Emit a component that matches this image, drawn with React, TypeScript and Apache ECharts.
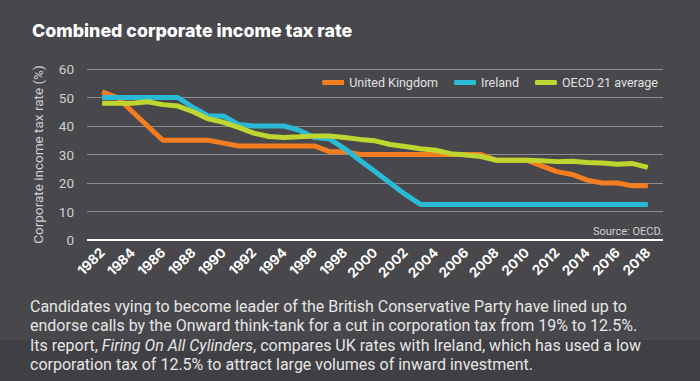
import React, { useEffect, useRef } from "react";
import * as echarts from "echarts";

const years = [1982, 1983, 1984, 1985, 1986, 1987, 1988, 1989, 1990, 1991, 1992, 1993, 1994, 1995, 1996, 1997, 1998, 1999, 2000, 2001, 2002, 2003, 2004, 2005, 2006, 2007, 2008, 2009, 2010, 2011, 2012, 2013, 2014, 2015, 2016, 2017, 2018];
const ukRates = [52, 50, 45, 40, 35, 35, 35, 35, 34, 33, 33, 33, 33, 33, 33, 31, 31, 30, 30, 30, 30, 30, 30, 30, 30, 30, 28, 28, 28, 26, 24, 23, 21, 20, 20, 19, 19];
const irelandRates = [50, 50, 50, 50, 50, 50, 46.5, 43.5, 43.5, 40.5, 40, 40, 40, 38.5, 36, 35.5, 32, 28, 24, 20, 16, 12.5, 12.5, 12.5, 12.5, 12.5, 12.5, 12.5, 12.5, 12.5, 12.5, 12.5, 12.5, 12.5, 12.5, 12.5, 12.5];
const oecdRates = [48, 48, 48, 48.5, 47.5, 47, 45, 42.5, 41.3, 39.5, 37.5, 36.3, 36, 36.2, 36.5, 36.5, 36, 35.3, 34.8, 33.5, 32.8, 32, 31.5, 30.3, 29.8, 29.3, 28, 28, 28, 27.8, 27.5, 27.6, 27.2, 27, 26.6, 26.8, 25.5];
const seriesNames = ["United Kingdom", "Ireland", "OECD 21 average"];
const seriesColors = ["#f47d20", "#2bbad6", "#bed62f"];

const titleText = "Combined corporate income tax rate";
const yAxisTitle = "Corporate income tax rate (%)";
const sourceText = "Source: OECD.";
const bodyLines = [
  "Candidates vying to become leader of the British Conservative Party have lined up to",
  "endorse calls by the Onward think-tank for a cut in corporation tax from 19% to 12.5%.",
  "Its report, {i|Firing On All Cylinders}, compares UK rates with Ireland, which has used a low",
  "corporation tax of 12.5% to attract large volumes of inward investment.",
];

const FONT = "Roboto, Lato, 'Noto Sans', sans-serif";

export default function App() {
  const ref = useRef<HTMLDivElement>(null);
  useEffect(() => {
    document.body.style.margin = "0";
    if (!ref.current) return;
    const chart = echarts.init(ref.current, undefined, { renderer: "svg" });
    const allSeries = [ukRates, irelandRates, oecdRates];
    chart.setOption({
      animation: false,
      backgroundColor: "#48474b",
      textStyle: { fontFamily: FONT },
      grid: { left: 87, right: 37, top: 69, bottom: 141 },
      legend: {
        right: 37,
        top: 71,
        icon: "roundRect",
        itemWidth: 22,
        itemHeight: 5,
        itemGap: 16,
        textStyle: { color: "#e2e2e2", fontSize: 12.5, fontFamily: FONT },
        data: seriesNames,
      },
      xAxis: {
        type: "value",
        min: 1981,
        max: 2019,
        interval: 1,
        splitLine: { show: false },
        axisTick: { show: false },
        axisLine: { show: false },
        axisLabel: {
          rotate: 45,
          margin: 10,
          color: "#ffffff",
          fontWeight: "bold",
          fontSize: 13.5,
          fontFamily: "Inter, Roboto, sans-serif",
          formatter: (v: number) => (v % 2 === 0 && v >= 1982 && v <= 2018 ? String(v) : ""),
        },
      },
      yAxis: {
        type: "value",
        min: 0,
        max: 60,
        interval: 10,
        name: yAxisTitle,
        nameLocation: "middle",
        nameGap: 42,
        nameTextStyle: { color: "#d0d0d0", fontSize: 13.5, fontFamily: FONT },
        axisLine: { show: false },
        axisTick: { show: false },
        axisLabel: { color: "#d0d0d0", fontSize: 13.5, margin: 13, fontFamily: FONT },
        splitLine: { lineStyle: { color: "#8c8c8e", width: 1 } },
      },
      series: [
        ...allSeries.map((vals, i) => ({
          name: seriesNames[i],
          type: "line",
          showSymbol: false,
          symbol: "none",
          color: seriesColors[i],
          lineStyle: { width: 5, color: seriesColors[i] },
          data: years.map((y, k) => [y, vals[k]]),
          z: 3 + i,
        })),
        {
          type: "line",
          silent: true,
          symbol: "none",
          data: [],
          markLine: {
            silent: true,
            symbol: "none",
            label: { show: false },
            lineStyle: { color: "#ffffff", width: 2, type: "solid" },
            data: [{ yAxis: 0 }],
          },
        },
      ],
      graphic: [
        {
          type: "rect",
          left: 0,
          top: 340,
          z: -10,
          shape: { width: 700, height: 41 },
          style: { fill: "#403f43" },
        },
        {
          type: "text",
          left: 32,
          top: 21,
          style: { text: titleText, fill: "#ffffff", fontSize: 17.8, fontWeight: 800, fontFamily: "Inter, Lato, sans-serif" },
        },
        {
          type: "text",
          right: 37,
          top: 226,
          style: { text: sourceText, fill: "#d0d0d0", fontSize: 11, fontFamily: FONT },
        },
        ...bodyLines.map((t, i) => ({
          type: "text",
          left: 30,
          top: 298 + i * 19.5,
          style: {
            text: t,
            fill: "#e6e6e6",
            fontSize: 16,
            fontFamily: FONT,
            rich: { i: { fontStyle: "italic", fontSize: 16, fill: "#e6e6e6", fontFamily: FONT } },
          },
        })),
      ],
    });
    return () => chart.dispose();
  }, []);
  return <div ref={ref} style={{ width: 700, height: 381 }} />;
}
